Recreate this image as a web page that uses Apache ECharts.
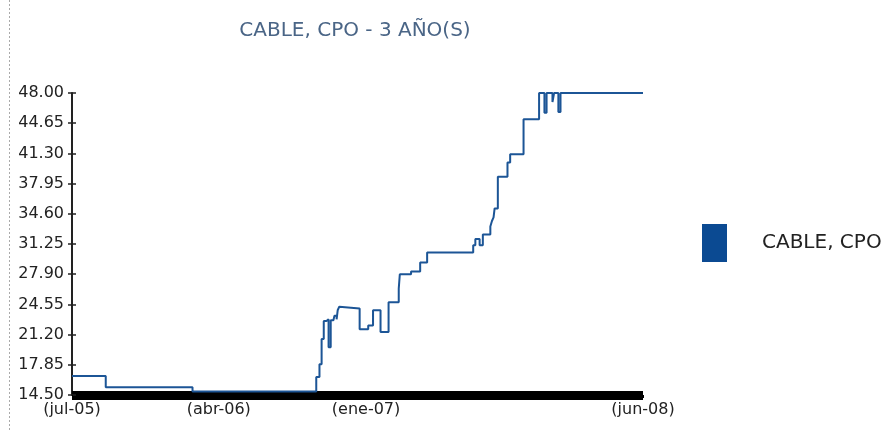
<!DOCTYPE html>
<html><head><meta charset="utf-8">
<script src="https://cdn.jsdelivr.net/npm/echarts@6/dist/echarts.min.js"></script>
<style>html,body{margin:0;padding:0;background:#fff}#c{width:892px;height:432px}</style>
</head><body><div id="c"></div>
<script>
const titleText = 'CABLE, CPO - 3 AÑO(S)';
const seriesName = 'CABLE, CPO';
const dates = ['2005-07-01','2005-09-02','2006-02-11','2006-09-30','2006-10-06','2006-10-10','2006-10-14','2006-10-19','2006-10-23','2006-10-27','2006-11-01','2006-11-03','2006-11-07','2006-11-09','2006-11-12','2006-11-14','2006-12-20','2007-01-05','2007-01-14','2007-01-28','2007-02-12','2007-03-03','2007-03-05','2007-03-26','2007-04-12','2007-04-25','2007-07-20','2007-07-24','2007-08-01','2007-08-07','2007-08-21','2007-08-24','2007-08-27','2007-08-29','2007-09-04','2007-09-22','2007-09-27','2007-10-22','2007-11-20','2007-11-30','2007-12-04','2007-12-15','2007-12-18','2007-12-26','2007-12-30','2008-06-01'];
const prices = [16.6,15.35,14.9,16.5,17.9,20.7,22.7,22.9,19.8,22.8,22.6,23.3,22.9,23.9,24.3,24.1,21.8,22.2,23.9,21.5,24.8,26.3,27.9,28.2,29.2,30.3,31.1,31.8,31.1,32.3,33.2,33.8,34.2,35.2,38.7,40.3,41.2,45.1,48.0,45.8,48.0,47.0,48.0,45.9,48.0,48.0];
const yTickValues = [14.50,17.85,21.20,24.55,27.90,31.25,34.60,37.95,41.30,44.65,48.00];
const xTickDates = ['2005-07-01','2006-04-01','2007-01-01','2008-06-01'];
const xTickLabels = ['(jul-05)','(abr-06)','(ene-07)','(jun-08)'];

const toTime = d => +echarts.number.parseDate(d);
const chart = echarts.init(document.getElementById('c'));
const xTickTimes = xTickDates.map(toTime);
const seriesData = dates.map((d, i) => [toTime(d), prices[i]]);
const FONT = 'DejaVu Sans';

chart.setOption({
  animation: false,
  backgroundColor: '#fff',
  title: {
    text: titleText,
    left: 350, textAlign: 'center', top: 16,
    textStyle: { fontFamily: FONT, fontSize: 20, fontWeight: 'normal', color: '#4a6586' }
  },
  legend: {
    data: [seriesName],
    left: 702, top: 224, padding: 0,
    icon: 'rect', itemWidth: 25, itemHeight: 38,
    textStyle: { fontFamily: FONT, fontSize: 20, color: '#222', padding: [0,0,0,30] }
  },
  graphic: [{
    type: 'line', shape: { x1: 9.5, y1: 0, x2: 9.5, y2: 432 },
    style: { stroke: '#aaa', lineWidth: 1, lineDash: [2, 2] }
  }],
  grid: { left: 72, right: 249, top: 93, bottom: 37 },
  xAxis: {
    type: 'value',
    min: xTickTimes[0], max: xTickTimes[xTickTimes.length - 1],
    splitLine: { show: false },
    axisLine: { lineStyle: { color: '#000', width: 9, cap: 'butt' } },
    axisTick: { show: true, customValues: xTickTimes, length: 3, lineStyle: { color: '#000' } },
    axisLabel: {
      customValues: xTickTimes, margin: 7, showMinLabel: true, showMaxLabel: true,
      fontFamily: FONT, fontSize: 16, color: '#222',
      formatter: v => { const i = xTickTimes.indexOf(v); return i >= 0 ? xTickLabels[i] : ''; }
    }
  },
  yAxis: [{
    type: 'value', min: 14.5, max: 48,
    splitLine: { show: false },
    axisLine: { show: true, lineStyle: { color: '#222', width: 2 } },
    axisTick: { show: true, customValues: yTickValues, length: 4, lineStyle: { color: '#222', width: 1.5 } },
    axisLabel: {
      customValues: yTickValues, margin: 8,
      fontFamily: FONT, fontSize: 16, color: '#222',
      formatter: v => v.toFixed(2)
    }
  }, {
    type: 'value', min: 14.5, max: 48, position: 'left',
    splitLine: { show: false },
    axisLine: { show: false },
    axisTick: { show: true, inside: true, customValues: yTickValues, length: 4, lineStyle: { color: '#222', width: 1.5 } },
    axisLabel: { show: false }
  }],
  series: [{
    name: seriesName, type: 'line', step: 'end', yAxisIndex: 0,
    data: seriesData, showSymbol: false, symbol: 'none',
    itemStyle: { color: '#0b4a92' },
    lineStyle: { color: '#1c5596', width: 2 }
  }]
});
</script>
</body></html>
